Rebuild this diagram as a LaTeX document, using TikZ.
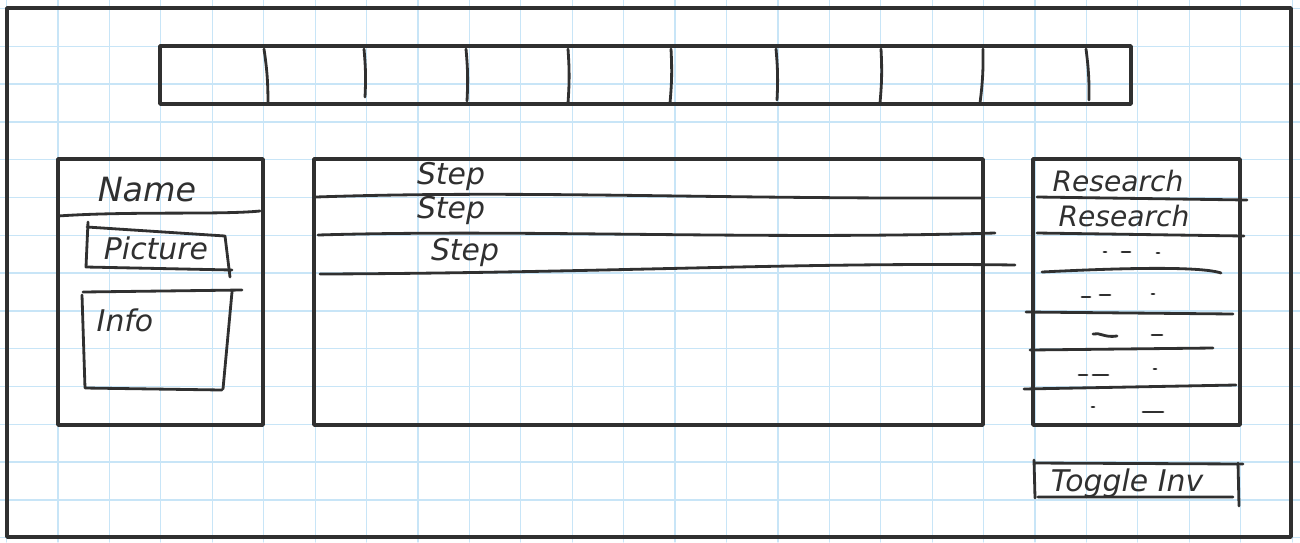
\documentclass[tikz,border=0pt]{standalone}
\usepackage{fontspec}
\setmainfont{DejaVu Sans}
\definecolor{ink}{RGB}{48,48,48}
\definecolor{paper}{RGB}{200,229,247}
\tikzset{
  box/.style={ink, line width=2.1pt},
  pen/.style={ink, line width=1.6pt},
  hand/.style={ink, inner sep=0pt, font=\fontsize{17}{20}\selectfont\itshape}
}
\begin{document}
\begin{tikzpicture}[x=0.02cm, y=-0.02cm, line join=round, line cap=round]
		\def\xmax{1300} \def\ymax{542}
		\useasboundingbox (0,0) rectangle (\xmax,\ymax);
		% grid paper
		\foreach \i in {0,...,25} \draw[paper, line width=0.7pt] (6.6+51.42*\i,0)--(6.6+51.42*\i,\ymax);
		\foreach \j in {0,...,14} \draw[paper, line width=0.7pt] (0,8.5+37.8*\j)--(\xmax,8.5+37.8*\j);
		% frame and top bar
		\draw[box] (7,8) rectangle (1291,537);
		\draw[box] (160,46) rectangle (1131,104);
		\foreach \xa/\xb/\yb in {264/268/102, 364/365/97, 466/467/101, 568/568/103, 671/670/103, 776/777/100, 881/880/103, 983/980/103, 1086/1089/100}
			\draw[pen] (\xa,49) to[bend left=4] (\xb,\yb);
		% left panel
		\draw[box] (58,159) rectangle (263,425);
		\draw[pen] (58,216) .. controls (130,211) and (220,215) .. (260,211);
		\node[hand, font=\fontsize{19}{22}\selectfont\itshape] (name) at (147,190) {Name};
		\draw[pen] (88,222)--(86,267)--(232,270) (87,227)--(225,236)--(230,277);
		\node[hand] (picture) at (156,248) {Picture};
		\draw[pen] (83,292)--(242,290) (82,295)--(85,388)--(222,390) (232,292)--(223,389);
		\node[hand] (info) at (125,320) {Info};
		% step list
		\draw[box] (314,159) rectangle (983,425);
		\draw[pen] (316,197) .. controls (520,190) and (700,199) .. (983,198);
		\draw[pen] (318,235) .. controls (520,229) and (760,240) .. (995,233);
		\draw[pen] (320,274) .. controls (600,273) and (800,262) .. (1015,265);
		\node[hand] (step1) at (451,177) {Step};
		\node[hand] (step2) at (451,211) {Step};
		\node[hand] (step3) at (465,253) {Step};
		% research list
		\draw[box] (1033,159) rectangle (1240,425);
		\draw[pen] (1037,197)--(1247,200) (1037,233)--(1244,236) (1026,312)--(1233,314) (1030,350)--(1213,348) (1024,389)--(1236,385);
		\draw[pen] (1042,272) .. controls (1120,268) and (1200,266) .. (1221,273);
		\node[hand, font=\fontsize{16}{19}\selectfont\itshape] (res1) at (1118,181) {Research};
		\node[hand, font=\fontsize{16}{19}\selectfont\itshape] (res2) at (1124,216) {Research};
		\foreach \xa/\xb/\y in {1104/1106/252, 1122/1130/252, 1157/1159/253, 1082/1090/297, 1100/1110/295, 1152/1154/294, 1152/1162/335, 1079/1087/375, 1093/1108/375, 1154/1156/369, 1092/1094/407, 1143/1163/412}
			\draw[pen] (\xa,\y)--(\xb,\y);
		\draw[pen] (1093,334) .. controls (1100,332) and (1104,338) .. (1117,336);
		% toggle button
		\draw[pen] (1034,460)--(1035,498) (1034,463)--(1243,464) (1238,463)--(1239,506) (1038,497)--(1233,497);
		\node[hand] (toggle) at (1127,483) {Toggle Inv};
\end{tikzpicture}
\end{document}
